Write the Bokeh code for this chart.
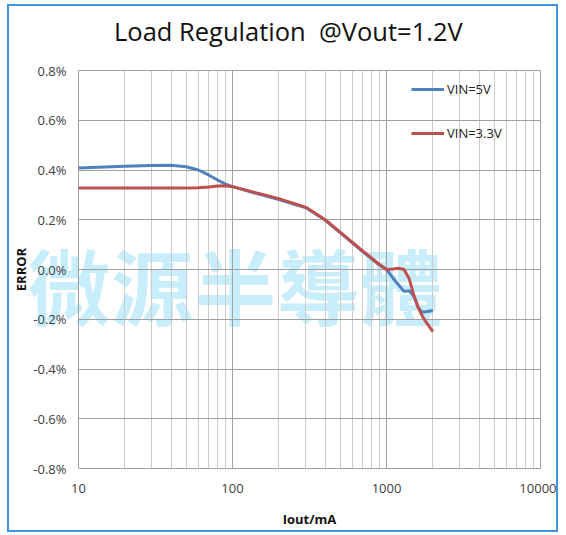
from bokeh.plotting import figure
from bokeh.layouts import column
from bokeh.models import (FixedTicker, PrintfTickFormatter, Legend, LegendItem, Div)
from bokeh.embed import file_html
from bokeh.resources import INLINE

# ---- data (Iout in mA, error in %) ----
iout_5v = [10, 20, 30, 40, 50, 60, 70, 80, 90, 100, 150, 200, 300, 400, 500, 700, 900,
           1000, 1100, 1200, 1300, 1400, 1500, 1600, 1700, 1800, 2000]
err_5v = [0.408, 0.415, 0.418, 0.419, 0.413, 0.400, 0.380, 0.360, 0.343, 0.333, 0.302, 0.281,
          0.248, 0.198, 0.148, 0.072, 0.018, 0.0, -0.034, -0.062, -0.088, -0.085, -0.105,
          -0.150, -0.172, -0.170, -0.165]

iout_33v = [10, 20, 30, 40, 50, 60, 70, 80, 90, 100, 150, 200, 300, 400, 500, 700, 900,
            1000, 1100, 1200, 1300, 1400, 1500, 1600, 1700, 1800, 2000]
err_33v = [0.328, 0.328, 0.328, 0.328, 0.328, 0.329, 0.332, 0.336, 0.337, 0.333, 0.305, 0.285,
           0.250, 0.200, 0.150, 0.075, 0.020, 0.0, 0.002, 0.005, 0.0, -0.035, -0.100,
           -0.150, -0.185, -0.210, -0.250]

x_major = [10, 100, 1000, 10000]
x_minor = [20, 30, 40, 50, 60, 70, 80, 90, 200, 300, 400, 500, 600, 700, 800, 900,
           2000, 3000, 4000, 5000, 6000, 7000, 8000, 9000]
y_ticks = [-0.8, -0.6, -0.4, -0.2, 0.0, 0.2, 0.4, 0.6, 0.8]

title_text = "Load Regulation  @Vout=1.2V"
series_names = ["VIN=5V", "VIN=3.3V"]
watermark = "微源半導體"

p = figure(width=551, height=528, x_axis_type="log", x_range=(10, 10000), y_range=(-0.8, 0.8),
           output_backend="svg", toolbar_location=None,
           min_border_left=69, min_border_right=20, min_border_top=64, min_border_bottom=66)
p.margin = (4, 0, 0, 7)
p.styles = {"border": "2px solid #3f93e0", "box-sizing": "border-box",
            "position": "relative", "z-index": "1"}
p.border_fill_color = None
p.background_fill_color = None
p.title.text = ""
p.title.visible = False

p.outline_line_color = "#a0a0a0"
p.outline_line_width = 1

# axes
p.xaxis.ticker = FixedTicker(ticks=x_major, minor_ticks=x_minor)
p.xaxis.formatter = PrintfTickFormatter(format="%d")
p.yaxis.ticker = FixedTicker(ticks=y_ticks)
p.yaxis.formatter = PrintfTickFormatter(format="%.1f%%")
for ax in (p.xaxis, p.yaxis):
    ax.axis_line_color = None
    ax.major_tick_line_color = None
    ax.minor_tick_line_color = None
    ax.major_label_text_font = "Open Sans"
    ax.major_label_text_font_size = "13px"
    ax.major_label_text_color = "#404040"
    ax.axis_label_text_font = "Open Sans"
    ax.axis_label_text_font_size = "13px"
    ax.axis_label_text_font_style = "bold"
    ax.axis_label_text_color = "#111111"
p.xaxis.axis_label = "Iout/mA"
p.yaxis.axis_label = "ERROR"
p.xaxis.major_label_standoff = 9
p.yaxis.major_label_standoff = 6
p.xaxis.axis_label_standoff = 14
p.yaxis.axis_label_standoff = 0

p.xgrid.grid_line_color = "#a0a0a0"
p.xgrid.minor_grid_line_color = "#cccccc"
p.ygrid.grid_line_color = "#a0a0a0"

r1 = p.line(iout_5v, err_5v, line_color="#4f81bd", line_width=3)
r2 = p.line(iout_33v, err_33v, line_color="#c0504d", line_width=3)

legend = Legend(items=[LegendItem(label=series_names[0], renderers=[r1]),
                       LegendItem(label=series_names[1], renderers=[r2])],
                location=(333, 326), orientation="vertical")
legend.border_line_color = None
legend.background_fill_alpha = 0
legend.padding = 0
legend.margin = 0
legend.spacing = 26
legend.glyph_width = 33
legend.glyph_height = 16
legend.label_height = 16
legend.label_standoff = 3
legend.label_text_font = "Open Sans"
legend.label_text_font_size = "13px"
legend.label_text_color = "#222222"
p.add_layout(legend)

# chart title
title_div = Div(text=title_text, width=400, height=30,
                styles={"position": "absolute", "left": "109px", "top": "13px", "z-index": "2",
                        "font-family": "Open Sans", "font-size": "25.5px",
                        "line-height": "26px", "color": "#111111", "white-space": "pre"})

# watermark behind the (transparent) plot canvas
wm_div = Div(text=watermark, width=470, height=90,
             styles={"position": "absolute", "left": "23px", "top": "238px", "z-index": "0",
                     "font-family": "Noto Sans CJK TC", "font-size": "82px",
                     "font-weight": "bold", "line-height": "82px", "color": "#c8edfb",
                     "letter-spacing": "1px", "white-space": "nowrap"})

layout = column(wm_div, title_div, p)
open("out.html", "w").write(file_html(layout, INLINE))
